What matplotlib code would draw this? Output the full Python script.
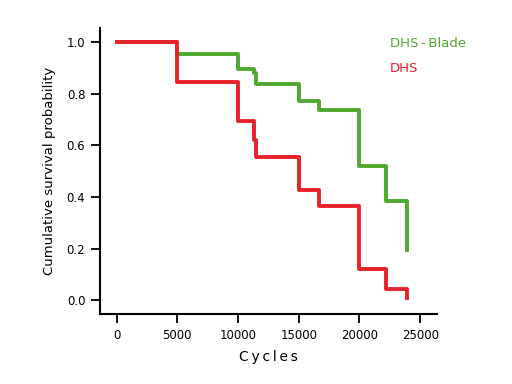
import numpy as np
import matplotlib.pyplot as plt

# Kaplan-Meier style step data
blade_cycles = [0, 5000, 10000, 11300, 11450, 15000, 16700, 20000, 22200, 23900]
blade_surv = [1.0, 0.952, 0.897, 0.88, 0.836, 0.772, 0.736, 0.52, 0.384, 0.194]

dhs_cycles = [0, 5000, 10000, 11300, 11450, 15000, 16700, 20000, 22200, 23900]
dhs_surv = [1.0, 0.846, 0.692, 0.62, 0.555, 0.426, 0.364, 0.119, 0.045, 0.01]

x_ticks = [0, 5000, 10000, 15000, 20000, 25000]
y_ticks = [0.0, 0.2, 0.4, 0.6, 0.8, 1.0]

green = '#4fa82f'
red = '#e8212b'

fig = plt.figure(figsize=(5.12, 3.84), dpi=100)
ax = fig.add_axes([0.195, 0.182, 0.658, 0.745])

ax.step(blade_cycles, blade_surv, where='post', color=green, lw=2.8)
ax.step(dhs_cycles, dhs_surv, where='post', color=red, lw=2.8)

ax.set_xlim(-1375, 26360)
ax.set_ylim(-0.054, 1.054)
ax.set_xticks(x_ticks)
ax.set_yticks(y_ticks)
ax.set_yticklabels([f'{v:.1f}' for v in y_ticks])

for s in ['top', 'right']:
    ax.spines[s].set_visible(False)
for s in ['left', 'bottom']:
    ax.spines[s].set_linewidth(1.5)
ax.tick_params(direction='out', length=6.5, width=1.3, labelsize=8.5, pad=4)

ax.set_xlabel('C\u2009y\u2009c\u2009l\u2009e\u2009s', fontsize=10, labelpad=6)
ax.set_ylabel('Cumulative survival probability', fontsize=9.5, labelpad=8)

ax.text(0.86, 0.935, 'DHS\u2009-\u2009Blade', transform=ax.transAxes, color=green, fontsize=9.5)
ax.text(0.86, 0.845, 'DHS', transform=ax.transAxes, color=red, fontsize=9.5)

fig.savefig('out.png', dpi=100)
